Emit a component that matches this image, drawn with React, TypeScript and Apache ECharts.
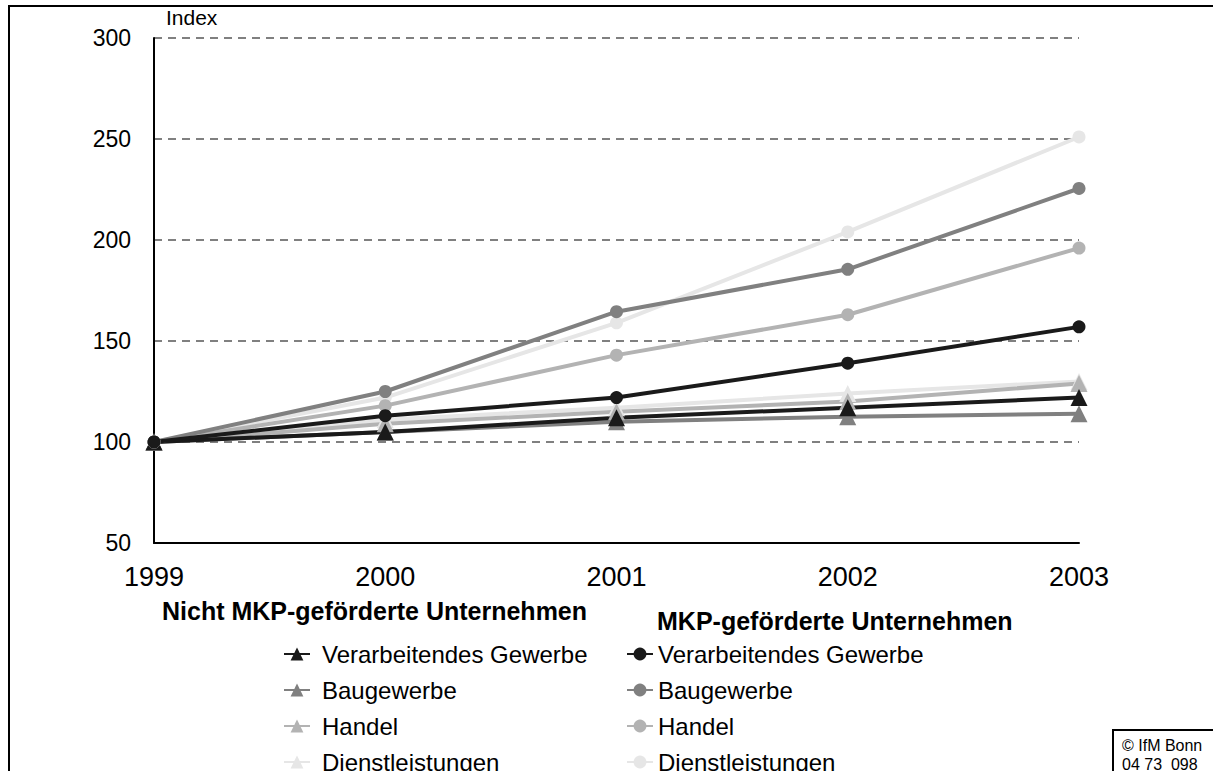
import React, { useEffect, useRef } from "react";
import * as echarts from "echarts";

const years = ["1999", "2000", "2001", "2002", "2003"];
const yTicks = [50, 100, 150, 200, 250, 300];

// Nicht MKP-geförderte Unternehmen (triangles)
const nVerarb = [100, 105, 112, 117, 122];
const nBau = [100, 105, 110, 112.5, 114];
const nHandel = [100, 109, 115, 120, 129];
const nDienst = [100, 111, 117, 124, 130];

// MKP-geförderte Unternehmen (circles)
const mVerarb = [100, 113, 122, 139, 157];
const mBau = [100, 125, 164.5, 185.5, 225.5];
const mHandel = [100, 118, 143, 163, 196];
const mDienst = [100, 122, 159, 204, 251];

const categories = ["Verarbeitendes Gewerbe", "Baugewerbe", "Handel", "Dienstleistungen"];
const colors = ["#1a1a1a", "#808080", "#b3b3b3", "#e6e6e6"];

const FONT = "Liberation Sans, Arial, sans-serif";

export default function App() {
  const ref = useRef<HTMLDivElement>(null);
  useEffect(() => {
    if (!ref.current) return;
    const chart = echarts.init(ref.current, null, { renderer: "svg" });
    const nData = [nVerarb, nBau, nHandel, nDienst];
    const mData = [mVerarb, mBau, mHandel, mDienst];
    const series: any[] = [];
    for (let i = 3; i >= 0; i--) {
      series.push({
        name: "n_" + categories[i],
        type: "line",
        data: nData[i],
        symbol: "triangle",
        symbolSize: 17,
        lineStyle: { width: 4, color: colors[i] },
        itemStyle: { color: colors[i] },
        z: 2,
      });
    }
    for (let i = 3; i >= 0; i--) {
      series.push({
        name: "m_" + categories[i],
        type: "line",
        data: mData[i],
        symbol: "circle",
        symbolSize: 13,
        lineStyle: { width: 4, color: colors[i] },
        itemStyle: { color: colors[i] },
        z: 3,
      });
    }
    const legendCommon = {
      orient: "vertical",
      itemWidth: 26,
      itemHeight: 16,
      itemGap: 12,
      selectedMode: false,
      formatter: (n: string) => n.slice(2),
    };
    chart.setOption({
      animation: false,
      backgroundColor: "#fff",
      textStyle: { fontFamily: FONT },
      grid: { left: 154, right: 134, top: 38, bottom: 257, containLabel: false },
      xAxis: {
        type: "category",
        data: years,
        boundaryGap: false,
        axisLine: { lineStyle: { color: "#000", width: 2 } },
        axisTick: { show: false },
        axisLabel: { fontSize: 27, color: "#000", fontFamily: FONT, margin: 20 },
      },
      yAxis: {
        type: "value",
        min: yTicks[0],
        max: yTicks[yTicks.length - 1],
        interval: 50,
        name: "Index",
        nameLocation: "end",
        nameGap: 10,
        nameTextStyle: { fontSize: 21, color: "#000", fontFamily: FONT, align: "left", padding: [0, 0, 0, 12] },
        axisLine: { show: true, lineStyle: { color: "#000", width: 2 } },
        axisTick: { show: false },
        axisLabel: { fontSize: 23, color: "#000", fontFamily: FONT, margin: 23, padding: [8, 0, 0, 0] },
        splitLine: { show: true, lineStyle: { color: "#808080", width: 2, type: [8, 6] } },
      },
      legend: [
        {
          ...legendCommon,
          left: 278,
          top: 637,
          textStyle: { fontFamily: FONT, fontSize: 24, color: "#000", padding: [0, 0, 0, 7] },
          data: [0, 1, 2, 3].map((i) => "n_" + categories[i]),
        },
        {
          ...legendCommon,
          left: 621,
          top: 637,
          textStyle: { fontFamily: FONT, fontSize: 24, color: "#000", padding: [0, 0, 0, 0] },
          data: [0, 1, 2, 3].map((i) => "m_" + categories[i]),
        },
      ],
      graphic: [
        {
          type: "rect",
          shape: { x: 9, y: 6, width: 1400, height: 1000 },
          style: { fill: "none", stroke: "#000", lineWidth: 2 },
          silent: true,
        },
        {
          type: "text",
          left: 162,
          top: 598,
          style: { text: "Nicht MKP-geförderte Unternehmen", font: "bold 25px " + FONT, fill: "#000" },
        },
        {
          type: "text",
          left: 657,
          top: 608,
          style: { text: "MKP-geförderte Unternehmen", font: "bold 25px " + FONT, fill: "#000" },
        },
        {
          type: "rect",
          shape: { x: 1113, y: 730, width: 200, height: 100 },
          style: { fill: "#fff", stroke: "#000", lineWidth: 2 },
        },
        {
          type: "text",
          x: 1122,
          y: 737,
          style: { text: "© IfM Bonn", font: "16px " + FONT, fill: "#000" },
        },
        {
          type: "text",
          x: 1122,
          y: 756,
          style: { text: "04 73  098", font: "16px " + FONT, fill: "#000" },
        },
      ],
      series,
    });
    return () => chart.dispose();
  }, []);
  return (
    <div
      ref={ref}
      style={{ position: "absolute", left: 0, top: 0, width: 1213, height: 800 }}
    />
  );
}
